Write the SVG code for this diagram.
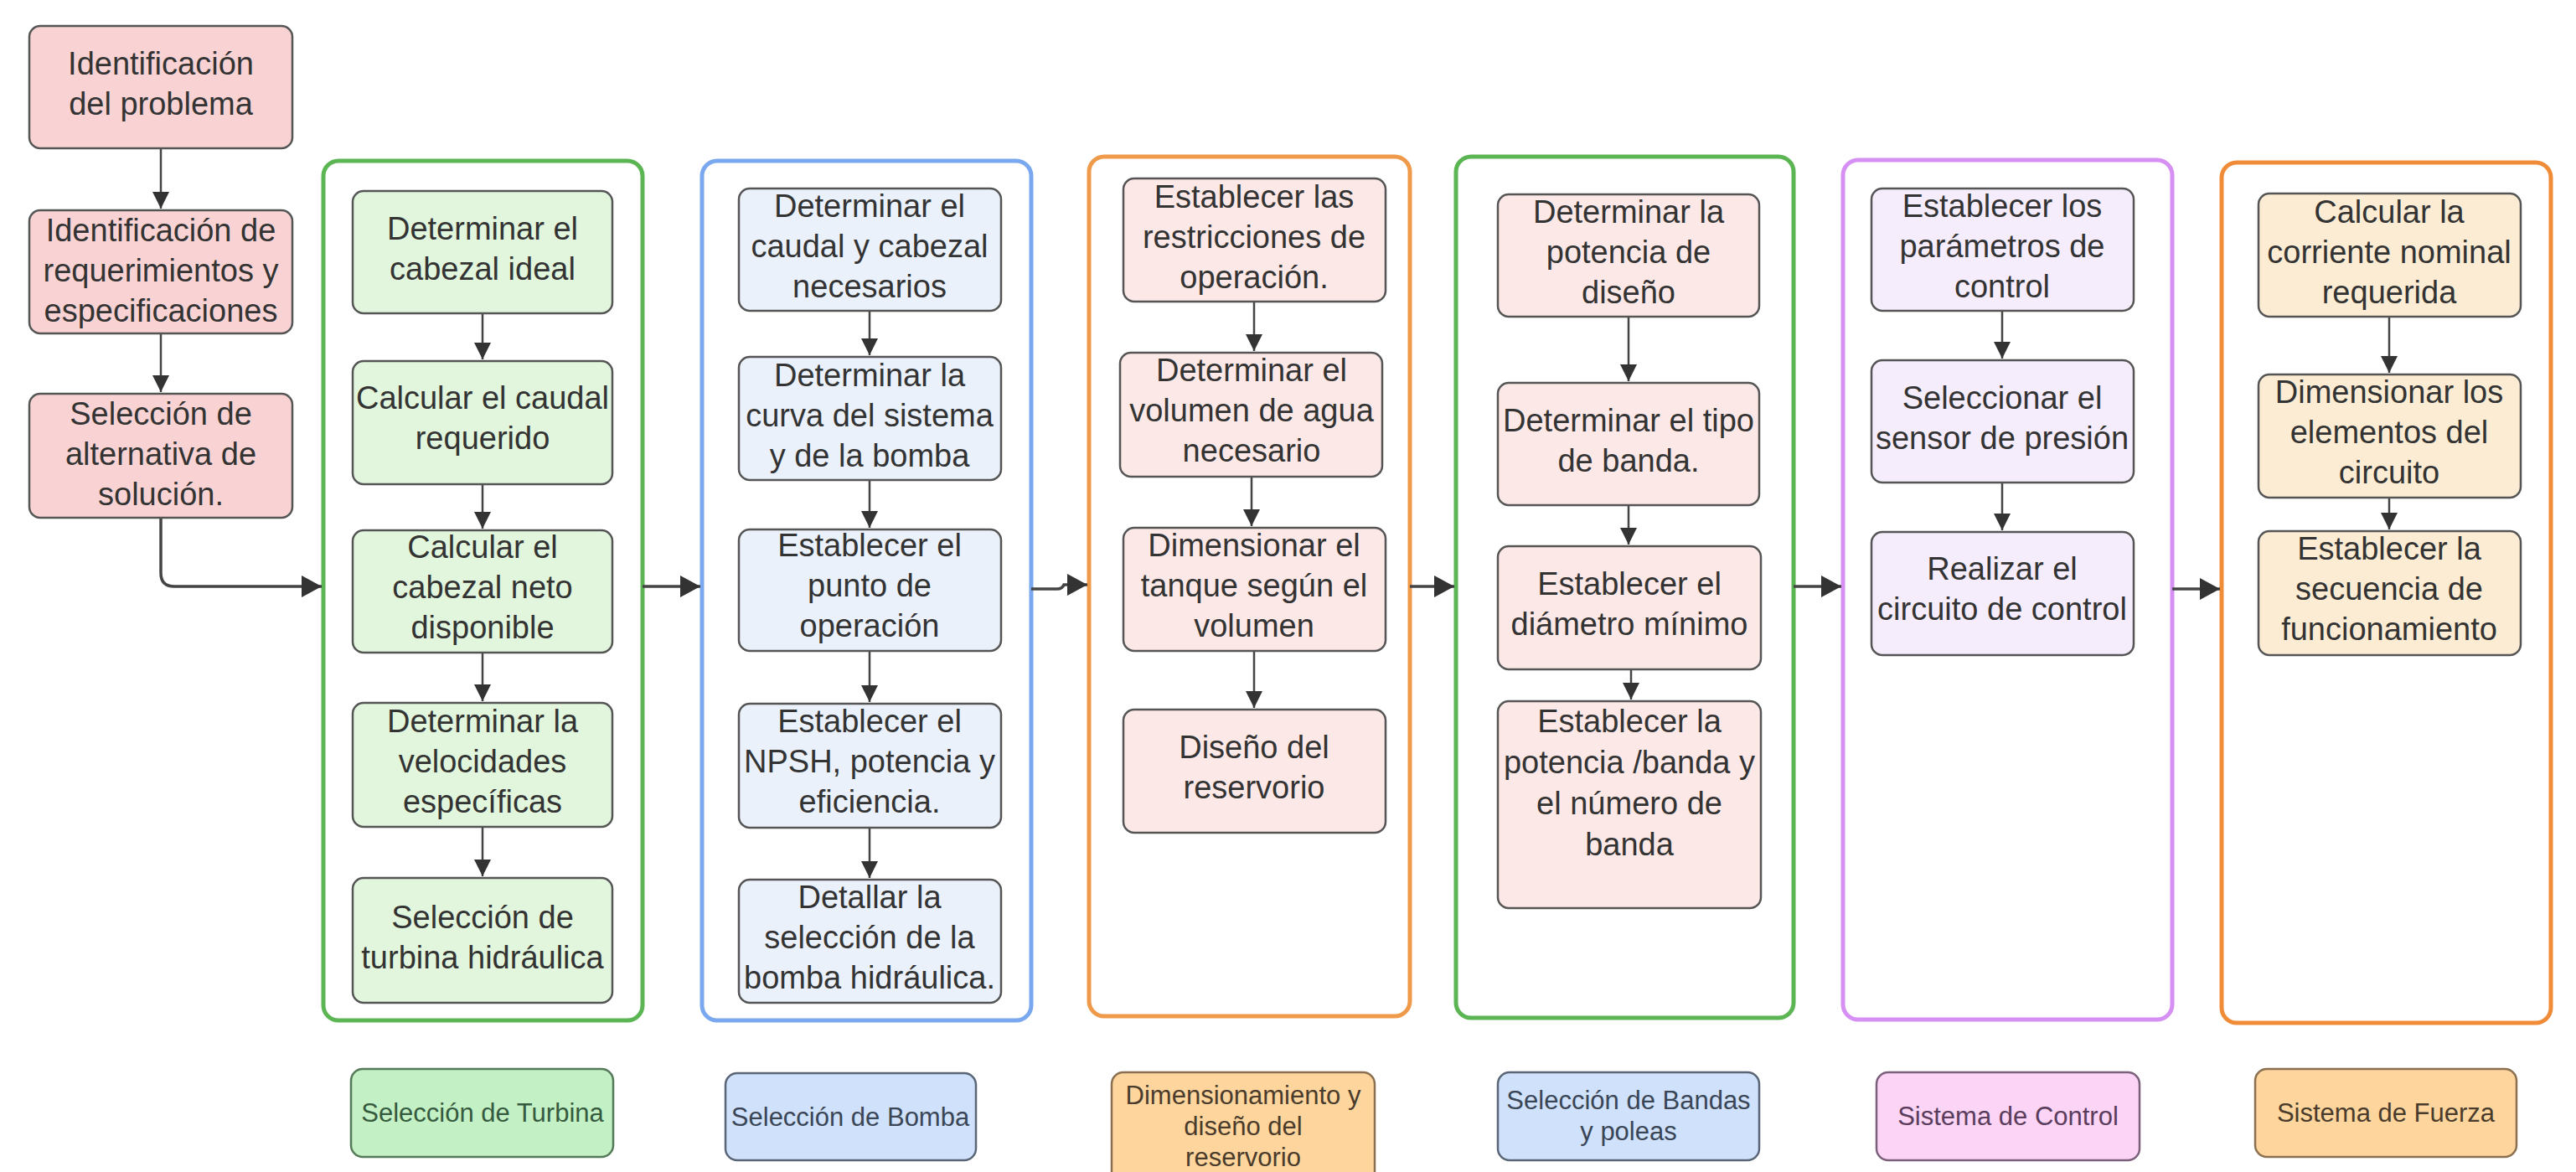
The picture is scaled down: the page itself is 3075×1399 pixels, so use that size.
<svg xmlns="http://www.w3.org/2000/svg" width="3075" height="1399" viewBox="0 0 3075 1399">
<defs>
<style>
text{font-family:"Liberation Sans",Arial,sans-serif;}
.t{font-size:38px;fill:#333;text-anchor:middle;}
.lb{font-size:31px;text-anchor:middle;}
.n{stroke:#555;stroke-width:2.5;}
.pink{fill:#f9d3d4;}
.g{fill:#e1f6dc;}
.b{fill:#eaf1fb;}
.o{fill:#fce8e6;}
.p{fill:#f5ecfc;}
.y{fill:#fcecd3;}
.c{fill:#fff;stroke-width:5;}
.e{fill:none;stroke:#444;stroke-width:2.5;}
.eh{fill:none;stroke:#444;stroke-width:3.5;}
</style>
<marker id="ah" markerUnits="userSpaceOnUse" markerWidth="20" markerHeight="24" viewBox="0 0 20 24" refX="20" refY="12" orient="auto"><path d="M0,2 L20,12 L0,22 Z" fill="#333"/></marker>
<marker id="ah2" markerUnits="userSpaceOnUse" markerWidth="24" markerHeight="28" viewBox="0 0 24 28" refX="24" refY="14" orient="auto"><path d="M0,1 L24,14 L0,27 Z" fill="#333"/></marker>
</defs>
<rect width="3075" height="1399" fill="#fff"/>

<g id="containers">
<rect id="c1" class="c" x="386" y="192" width="381" height="1026" rx="18" stroke="#5ab552"/>
<rect id="c2" class="c" x="838" y="192" width="393" height="1026" rx="18" stroke="#79a8ef"/>
<rect id="c3" class="c" x="1300" y="187" width="383" height="1026" rx="18" stroke="#ef9a4b"/>
<rect id="c4" class="c" x="1738" y="187" width="403" height="1028" rx="18" stroke="#5ab552"/>
<rect id="c5" class="c" x="2200" y="191" width="393" height="1026" rx="18" stroke="#d690f3"/>
<rect id="c6" class="c" x="2652" y="194" width="393" height="1027" rx="18" stroke="#f08c38"/>
</g>

<g id="connectors">
<path class="e" d="M192 177 V249" marker-end="url(#ah)"/>
<path class="e" d="M192 398 V468" marker-end="url(#ah)"/>
<path class="eh" d="M192 618 V684 Q192 700 208 700 H384" marker-end="url(#ah2)"/>
<path class="eh" d="M767 700 H836" marker-end="url(#ah2)"/>
<path class="eh" d="M1231 703 H1262 Q1268 703 1270 698 H1298" marker-end="url(#ah2)"/>
<path class="eh" d="M1683 700 H1736" marker-end="url(#ah2)"/>
<path class="eh" d="M2141 700 H2198" marker-end="url(#ah2)"/>
<path class="eh" d="M2593 703 H2650" marker-end="url(#ah2)"/>

<path class="e" d="M576 374 V429" marker-end="url(#ah)"/>
<path class="e" d="M576 578 V631" marker-end="url(#ah)"/>
<path class="e" d="M576 779 V837" marker-end="url(#ah)"/>
<path class="e" d="M576 987 V1046" marker-end="url(#ah)"/>

<path class="e" d="M1038 371 V424" marker-end="url(#ah)"/>
<path class="e" d="M1038 573 V630" marker-end="url(#ah)"/>
<path class="e" d="M1038 777 V838" marker-end="url(#ah)"/>
<path class="e" d="M1038 988 V1048" marker-end="url(#ah)"/>

<path class="e" d="M1497 360 V419" marker-end="url(#ah)"/>
<path class="e" d="M1494 569 V628" marker-end="url(#ah)"/>
<path class="e" d="M1497 777 V845" marker-end="url(#ah)"/>

<path class="e" d="M1944 378 V455" marker-end="url(#ah)"/>
<path class="e" d="M1944 603 V650" marker-end="url(#ah)"/>
<path class="e" d="M1947 799 V835" marker-end="url(#ah)"/>

<path class="e" d="M2390 371 V428" marker-end="url(#ah)"/>
<path class="e" d="M2390 576 V633" marker-end="url(#ah)"/>

<path class="e" d="M2852 378 V445" marker-end="url(#ah)"/>
<path class="e" d="M2852 594 V632" marker-end="url(#ah)"/>
</g>

<g id="L1"><rect class="n pink" x="35" y="31" width="314" height="146" rx="13"/><text class="t" y="89"><tspan x="192">Identificación</tspan><tspan x="192" dy="48">del problema</tspan></text></g>
<g id="L2"><rect class="n pink" x="35" y="251" width="314" height="147" rx="13"/><text class="t" y="288"><tspan x="192">Identificación de</tspan><tspan x="192" dy="48">requerimientos y</tspan><tspan x="192" dy="48">especificaciones</tspan></text></g>
<g id="L3"><rect class="n pink" x="35" y="470" width="314" height="148" rx="13"/><text class="t" y="507"><tspan x="192">Selección de</tspan><tspan x="192" dy="48">alternativa de</tspan><tspan x="192" dy="48">solución.</tspan></text></g>

<g id="T1"><rect class="n g" x="421" y="228" width="310" height="146" rx="13"/><text class="t" y="286"><tspan x="576">Determinar el</tspan><tspan x="576" dy="48">cabezal ideal</tspan></text></g>
<g id="T2"><rect class="n g" x="421" y="431" width="310" height="147" rx="13"/><text class="t" y="488"><tspan x="576">Calcular el caudal</tspan><tspan x="576" dy="48">requerido</tspan></text></g>
<g id="T3"><rect class="n g" x="421" y="633" width="310" height="146" rx="13"/><text class="t" y="666"><tspan x="576">Calcular el</tspan><tspan x="576" dy="48">cabezal neto</tspan><tspan x="576" dy="48">disponible</tspan></text></g>
<g id="T4"><rect class="n g" x="421" y="839" width="310" height="148" rx="13"/><text class="t" y="874"><tspan x="576">Determinar la</tspan><tspan x="576" dy="48">velocidades</tspan><tspan x="576" dy="48">específicas</tspan></text></g>
<g id="T5"><rect class="n g" x="421" y="1048" width="310" height="149" rx="13"/><text class="t" y="1108"><tspan x="576">Selección de</tspan><tspan x="576" dy="48">turbina hidráulica</tspan></text></g>

<g id="B1"><rect class="n b" x="882" y="225" width="313" height="146" rx="13"/><text class="t" y="259"><tspan x="1038">Determinar el</tspan><tspan x="1038" dy="48">caudal y cabezal</tspan><tspan x="1038" dy="48">necesarios</tspan></text></g>
<g id="B2"><rect class="n b" x="882" y="426" width="313" height="147" rx="13"/><text class="t" y="461"><tspan x="1038">Determinar la</tspan><tspan x="1038" dy="48">curva del sistema</tspan><tspan x="1038" dy="48">y de la bomba</tspan></text></g>
<g id="B3"><rect class="n b" x="882" y="632" width="313" height="145" rx="13"/><text class="t" y="664"><tspan x="1038">Establecer el</tspan><tspan x="1038" dy="48">punto de</tspan><tspan x="1038" dy="48">operación</tspan></text></g>
<g id="B4"><rect class="n b" x="882" y="840" width="313" height="148" rx="13"/><text class="t" y="874"><tspan x="1038">Establecer el</tspan><tspan x="1038" dy="48">NPSH, potencia y</tspan><tspan x="1038" dy="48">eficiencia.</tspan></text></g>
<g id="B5"><rect class="n b" x="882" y="1050" width="313" height="147" rx="13"/><text class="t" y="1084"><tspan x="1038">Detallar la</tspan><tspan x="1038" dy="48">selección de la</tspan><tspan x="1038" dy="48">bomba hidráulica.</tspan></text></g>

<g id="R1"><rect class="n o" x="1341" y="213" width="313" height="147" rx="13"/><text class="t" y="248"><tspan x="1497">Establecer las</tspan><tspan x="1497" dy="48">restricciones de</tspan><tspan x="1497" dy="48">operación.</tspan></text></g>
<g id="R2"><rect class="n o" x="1337" y="421" width="313" height="148" rx="13"/><text class="t" y="455"><tspan x="1494">Determinar el</tspan><tspan x="1494" dy="48">volumen de agua</tspan><tspan x="1494" dy="48">necesario</tspan></text></g>
<g id="R3"><rect class="n o" x="1341" y="630" width="313" height="147" rx="13"/><text class="t" y="664"><tspan x="1497">Dimensionar el</tspan><tspan x="1497" dy="48">tanque según el</tspan><tspan x="1497" dy="48">volumen</tspan></text></g>
<g id="R4"><rect class="n o" x="1341" y="847" width="313" height="147" rx="13"/><text class="t" y="905"><tspan x="1497">Diseño del</tspan><tspan x="1497" dy="48">reservorio</tspan></text></g>

<g id="P1"><rect class="n o" x="1788" y="232" width="312" height="146" rx="13"/><text class="t" y="266"><tspan x="1944">Determinar la</tspan><tspan x="1944" dy="48">potencia de</tspan><tspan x="1944" dy="48">diseño</tspan></text></g>
<g id="P2"><rect class="n o" x="1788" y="457" width="312" height="146" rx="13"/><text class="t" y="515"><tspan x="1944">Determinar el tipo</tspan><tspan x="1944" dy="48">de banda.</tspan></text></g>
<g id="P3"><rect class="n o" x="1788" y="652" width="314" height="147" rx="13"/><text class="t" y="710"><tspan x="1945">Establecer el</tspan><tspan x="1945" dy="48">diámetro mínimo</tspan></text></g>
<g id="P4"><rect class="n o" x="1788" y="837" width="314" height="247" rx="13"/><text class="t" y="874"><tspan x="1945">Establecer la</tspan><tspan x="1945" dy="49">potencia /banda y</tspan><tspan x="1945" dy="49">el número de</tspan><tspan x="1945" dy="49">banda</tspan></text></g>

<g id="S1"><rect class="n p" x="2234" y="225" width="313" height="146" rx="13"/><text class="t" y="259"><tspan x="2390">Establecer los</tspan><tspan x="2390" dy="48">parámetros de</tspan><tspan x="2390" dy="48">control</tspan></text></g>
<g id="S2"><rect class="n p" x="2234" y="430" width="313" height="146" rx="13"/><text class="t" y="488"><tspan x="2390">Seleccionar el</tspan><tspan x="2390" dy="48">sensor de presión</tspan></text></g>
<g id="S3"><rect class="n p" x="2234" y="635" width="313" height="147" rx="13"/><text class="t" y="692"><tspan x="2390">Realizar el</tspan><tspan x="2390" dy="48">circuito de control</tspan></text></g>

<g id="F1"><rect class="n y" x="2696" y="231" width="313" height="147" rx="13"/><text class="t" y="266"><tspan x="2852">Calcular la</tspan><tspan x="2852" dy="48">corriente nominal</tspan><tspan x="2852" dy="48">requerida</tspan></text></g>
<g id="F2"><rect class="n y" x="2696" y="447" width="313" height="147" rx="13"/><text class="t" y="481"><tspan x="2852">Dimensionar los</tspan><tspan x="2852" dy="48">elementos del</tspan><tspan x="2852" dy="48">circuito</tspan></text></g>
<g id="F3"><rect class="n y" x="2696" y="634" width="313" height="148" rx="13"/><text class="t" y="668"><tspan x="2852">Establecer la</tspan><tspan x="2852" dy="48">secuencia de</tspan><tspan x="2852" dy="48">funcionamiento</tspan></text></g>

<g id="lab1"><rect x="419" y="1276" width="313" height="105" rx="14" fill="#c3f1c5" stroke="#557a5a" stroke-width="2.5"/><text class="lb" x="576" y="1339" fill="#365a40">Selección de Turbina</text></g>
<g id="lab2"><rect x="866" y="1281" width="299" height="104" rx="14" fill="#cfe1fb" stroke="#5a6678" stroke-width="2.5"/><text class="lb" x="1015" y="1344" fill="#3a4656">Selección de Bomba</text></g>
<g id="lab3"><rect x="1327" y="1280" width="314" height="140" rx="14" fill="#fed59c" stroke="#8a7050" stroke-width="2.5"/><text class="lb" y="1318" fill="#4a3c2c"><tspan x="1484">Dimensionamiento y</tspan><tspan x="1484" dy="37">diseño del</tspan><tspan x="1484" dy="37">reservorio</tspan></text></g>
<g id="lab4"><rect x="1788" y="1280" width="312" height="105" rx="14" fill="#cfe1fb" stroke="#5a6678" stroke-width="2.5"/><text class="lb" y="1324" fill="#3a4656"><tspan x="1944">Selección de Bandas</tspan><tspan x="1944" dy="37">y poleas</tspan></text></g>
<g id="lab5"><rect x="2240" y="1280" width="314" height="105" rx="14" fill="#fcd4f6" stroke="#7a607a" stroke-width="2.5"/><text class="lb" x="2397" y="1343" fill="#5a3d5c">Sistema de Control</text></g>
<g id="lab6"><rect x="2692" y="1276" width="312" height="105" rx="14" fill="#fdd59d" stroke="#8a7050" stroke-width="2.5"/><text class="lb" x="2848" y="1339" fill="#4a3c2c">Sistema de Fuerza</text></g>
</svg>
